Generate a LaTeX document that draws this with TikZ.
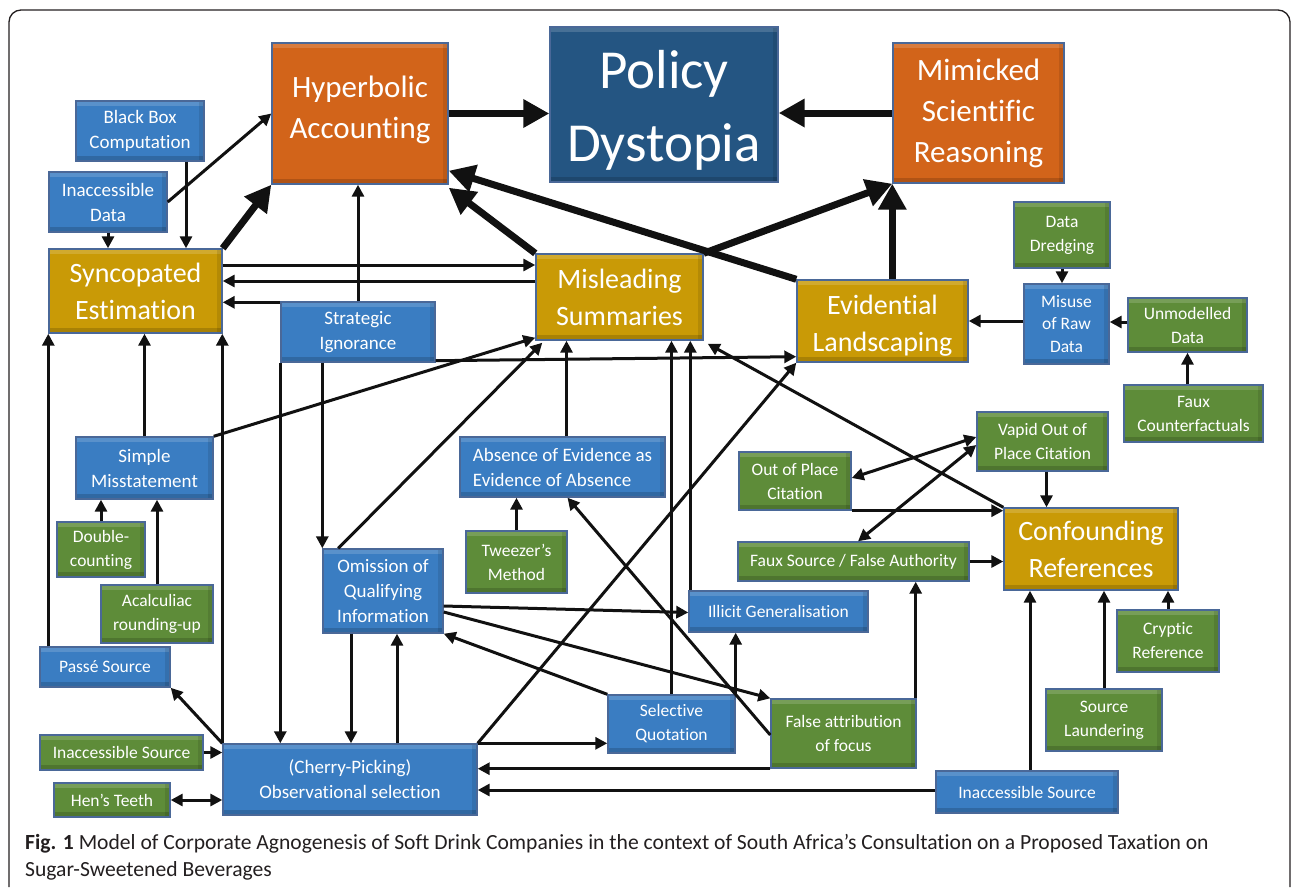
\documentclass[tikz,border=0pt]{standalone}
\usepackage{fontspec}
\setmainfont{Carlito}[Ligatures=NoCommon]
\usetikzlibrary{arrows.meta}

\definecolor{orangefill}{HTML}{D2641A}
\definecolor{policyfill}{HTML}{245582}
\definecolor{goldfill}{HTML}{C99A06}
\definecolor{bluefill}{HTML}{3A7DC2}
\definecolor{greenfill}{HTML}{5E8C39}
\definecolor{boxedge}{HTML}{4A6898}
\definecolor{linecol}{HTML}{111111}
\definecolor{captext}{HTML}{231F20}

% move a label up or down inside its box
\newcommand{\nudge}[2]{\raisebox{#1}[\height][\depth]{\begin{tabular}{@{}c@{}}#2\end{tabular}}}

\tikzset{
  bevel/.style={path picture={
      \fill[white, opacity=0.16] (path picture bounding box.north west) rectangle ([yshift=-5pt]path picture bounding box.north east);
      \fill[black, opacity=0.16] (path picture bounding box.south west) rectangle ([yshift=5pt]path picture bounding box.south east);
      \fill[black, opacity=0.10] (path picture bounding box.north east) rectangle ([xshift=-5pt]path picture bounding box.south east);
    }},
  box/.style={draw=boxedge, line width=1.4pt, text=white, align=center, inner sep=0pt,
    font=\fontsize{17.5}{24}\selectfont, bevel},
  bigtext/.style={font=\fontsize{19}{25}\selectfont},
  bluebox/.style={box, fill=bluefill},
  greenbox/.style={box, fill=greenfill},
  goldbox/.style={box, fill=goldfill, font=\fontsize{28}{37}\selectfont},
  orangebox/.style={box, fill=orangefill, font=\fontsize{31}{41}\selectfont},
  policybox/.style={box, fill=policyfill, font=\fontsize{55}{73}\selectfont},
  con/.style={line width=3pt, draw=linecol},
  heavy/.style={line width=7pt, draw=linecol, -{Triangle[length=26pt,width=27pt]}},
  caption/.style={inner sep=0pt, text=captext, font=\fontsize{21.6}{27}\selectfont},
  >={Triangle[length=12pt,width=12pt]}
}

\begin{document}
\begin{tikzpicture}[x=1pt,y=-1pt]

	\useasboundingbox (0,0) rectangle (1292,887);
	\draw[rounded corners=12pt, line width=1.3pt, draw=captext] (9,887) -- (9,10) -- (1290,10) -- (1290,887);

	% top row
	\node[orangebox, minimum width=176, minimum height=141] (hyper)  at (360,113.5)   {\nudge{3.5pt}{Hyperbolic\\Accounting}};
	\node[policybox, minimum width=228, minimum height=155] (policy) at (664,104.5)   {\nudge{-6pt}{Policy\\Dystopia}};
	\node[orangebox, minimum width=171, minimum height=140] (mimic)  at (978.5,113)   {Mimicked\\Scientific\\Reasoning};

	% left column
	\node[bluebox, bigtext, minimum width=128, minimum height=60] (blackbox)  at (140,131)   {Black Box\\Computation};
	\node[bluebox, bigtext, minimum width=118, minimum height=60] (inaccdata) at (108,202)   {Inaccessible\\Data};
	\node[goldbox, minimum width=173, minimum height=84] (synco)     at (135.5,291) {Syncopated\\Estimation};
	\node[bluebox, bigtext, minimum width=154, minimum height=60] (strat)     at (358,332)   {Strategic\\Ignorance};
	\node[bluebox, bigtext, minimum width=137, minimum height=62] (simple)    at (144.5,468) {Simple\\Misstatement};
	\node[greenbox, minimum width=88, minimum height=55] (double)    at (101,549.5) {Double-\\counting};
	\node[greenbox, minimum width=112, minimum height=58] (acalc)    at (157,614)   {Acalculiac\\rounding-up};
	\node[bluebox, minimum width=130, minimum height=40] (passe)     at (105,667)   {Passé Source};
	\node[greenbox, minimum width=163, minimum height=35] (inaccsrcL) at (121.5,752.5) {Inaccessible Source};
	\node[greenbox, minimum width=116, minimum height=34] (hens)      at (112,800)   {Hen’s Teeth};
	\node[bluebox, bigtext, minimum width=254, minimum height=71] (cherry)    at (350,779.5) {(Cherry-Picking)\\Observational selection};

	% middle
	\node[goldbox, minimum width=167, minimum height=86] (mislead)   at (619.5,297) {Misleading\\Summaries};
	\node[bluebox, bigtext, minimum width=205, minimum height=60, align=left] (absence) at (562.5,467) {Absence of Evidence as\\Evidence of Absence};
	\node[greenbox, minimum width=101, minimum height=62] (tweezer)  at (516.5,562) {Tweezer’s\\Method};
	\node[bluebox, bigtext, minimum width=120, minimum height=84] (omission) at (383,591) {Omission of\\Qualifying\\Information};
	\node[bluebox, minimum width=179, minimum height=41] (illicit)   at (778.5,611.5) {Illicit Generalisation};
	\node[bluebox, minimum width=127, minimum height=58] (selective) at (671.5,724) {Selective\\Quotation};
	\node[greenbox, minimum width=145, minimum height=69] (falseattr) at (843.5,733.5) {False attribution\\of focus};

	% right
	\node[goldbox, minimum width=171, minimum height=82] (evid)      at (882.5,321) {\nudge{-5pt}{Evidential\\Landscaping}};
	\node[greenbox, minimum width=96, minimum height=66] (dredge)    at (1062,235)  {Data\\Dredging};
	\node[bluebox, minimum width=85, minimum height=80, font=\fontsize{17.5}{22.5}\selectfont] (misuse) at (1066.5,324) {Misuse\\of Raw\\Data};
	\node[greenbox, minimum width=119, minimum height=54] (unmod)     at (1187.5,325) {Unmodelled\\Data};
	\node[greenbox, minimum width=139, minimum height=57] (fauxcf)    at (1193.5,413.5) {Faux\\Counterfactuals};
	\node[greenbox, minimum width=131, minimum height=59] (vapid)     at (1042.5,441.5) {Vapid Out of\\Place Citation};
	\node[greenbox, minimum width=112, minimum height=58] (outplace)  at (795,481)   {Out of Place\\Citation};
	\node[greenbox, minimum width=231, minimum height=39] (fauxsrc)   at (853.5,561.5) {Faux Source / False Authority};
	\node[goldbox, minimum width=174, minimum height=82] (confound)  at (1091,549)  {Confounding\\References};
	\node[greenbox, minimum width=102, minimum height=62] (cryptic)   at (1168,641)  {Cryptic\\Reference};
	\node[greenbox, minimum width=116, minimum height=62] (launder)   at (1104,720)  {Source\\Laundering};
	\node[bluebox, minimum width=182, minimum height=42] (inaccsrcR) at (1027,792)  {Inaccessible Source};

	% heavy arrows
	\draw[heavy] (hyper.east) -- (hyper.east -| policy.west);
	\draw[heavy] (mimic.west) -- (mimic.west -| policy.east);
	\draw[heavy] (synco.north east) -- (hyper.south west);
	\draw[heavy] (mislead.north west) -- ([yshift=-3]hyper.south east);
	\draw[heavy] (evid.north west) -- ([yshift=14]hyper.south east);
	\draw[heavy] (mislead.north east) -- (mimic.south west);
	\draw[heavy] (mimic.south west |- evid.north) -- (mimic.south west);

	% into syncopated estimation
	\draw[con,->] ([xshift=46]blackbox.south) -- ([xshift=46]blackbox.south |- synco.north);
	\draw[con,->] (inaccdata.south) -- (inaccdata.south |- synco.north);
	\draw[con,->] (inaccdata.east) -- (hyper.west);
	\draw[con,->] ([yshift=26]synco.east) -- ([yshift=26]synco.east -| mislead.west);
	\draw[con,->] ([yshift=16]mislead.west) -- ([yshift=16]mislead.west -| synco.east);
	\draw[con,->] ([yshift=-1]strat.north west) -- ([yshift=-1]strat.north west -| synco.east);
	\draw[con,->] (simple.north) -- (simple.north |- synco.south);
	\draw[con,->] (passe.north -| synco.south west) -- (synco.south west);
	\draw[con,->] (cherry.north west) -- (cherry.north west |- synco.south);

	% strategic ignorance
	\draw[con,->] (strat.north) -- (strat.north |- hyper.south);
	\draw[con,->] ([yshift=2]strat.south east) -- ([yshift=6]evid.south west);
	\draw[con,->] (strat.south -| omission.north west) -- (omission.north west);
	\draw[con,->] (strat.south west) -- (strat.south west |- cherry.north);

	% simple misstatement
	\draw[con,->] (simple.north east) -- ([yshift=3]mislead.south west);
	\draw[con,->] (double.north) -- (double.north |- simple.south);
	\draw[con,->] (acalc.north) -- (acalc.north |- simple.south);

	% observational selection
	\draw[con,->] (cherry.north west) -- (passe.south east);
	\draw[con,->] (inaccsrcL.east) -- (inaccsrcL.east -| cherry.west);
	\draw[con,<->] (hens.east) -- (hens.east -| cherry.west);
	\draw[con,->] ([xshift=-32]omission.south) -- ([xshift=-32]omission.south |- cherry.north);
	\draw[con,->] ([xshift=14]omission.south |- cherry.north) -- ([xshift=14]omission.south);
	\draw[con,->] (cherry.north east) -- (evid.south west);
	\draw[con,->] (cherry.north east) -- (cherry.north east -| selective.west);
	\draw[con,->] (falseattr.south west) -- (falseattr.south west -| cherry.east);
	\draw[con,->] ([yshift=2]inaccsrcR.west) -- ([yshift=2]inaccsrcR.west -| cherry.east);

	% misleading summaries
	\draw[con,->] ([xshift=16]omission.north west) -- ([xshift=7,yshift=-2]mislead.south west);
	\draw[con,->] ([xshift=4]absence.north) -- ([xshift=4]absence.north |- mislead.south);
	\draw[con,->] (tweezer.north) -- (tweezer.north |- absence.south);
	\draw[con,->] (selective.north) -- (selective.north |- mislead.south);
	\draw[con,->] ([xshift=2]illicit.north west) -- ([xshift=2]illicit.north west |- mislead.south);
	\draw[con,->] (confound.north west) -- ([xshift=4,yshift=-3]mislead.south east);

	% omission and quotation
	\draw[con,->] ([yshift=-15]omission.east) -- ([yshift=-1]illicit.west);
	\draw[con,->] ([yshift=-21]omission.east) -- (falseattr.north west);
	\draw[con,->] (selective.north west) -- (omission.south east);
	\draw[con,->] (selective.north east) -- (selective.north east |- illicit.south);
	\draw[con,->] ([yshift=-1.5]falseattr.west) -- ([xshift=5]absence.south);
	\draw[con,->] ([xshift=-1]falseattr.north east) -- ([xshift=-1]falseattr.north east |- fauxsrc.south);

	% evidential landscaping
	\draw[con,->] ([yshift=3]misuse.west) -- ([yshift=3]misuse.west -| evid.east);
	\draw[con,->] (dredge.south) -- (dredge.south |- misuse.north);
	\draw[con,->] ([yshift=3]unmod.west) -- ([yshift=3]unmod.west -| misuse.east);
	\draw[con,->] (unmod.south |- fauxcf.north) -- (unmod.south);

	% confounding references
	\draw[con,->] ([xshift=4]vapid.south) -- ([xshift=4]vapid.south |- confound.north);
	\draw[con,<->] ([yshift=3]outplace.east) -- ([yshift=4.5]vapid.west);
	\draw[con,<->] ([xshift=4.5]fauxsrc.north) -- ([yshift=-3.5]vapid.west);
	\draw[con,->] (outplace.south east) -- (outplace.south east -| confound.west);
	\draw[con,->] (fauxsrc.east) -- (fauxsrc.east -| confound.west);
	\draw[con,->] ([xshift=3]inaccsrcR.north) -- ([xshift=3]inaccsrcR.north |- confound.south);
	\draw[con,->] (launder.north) -- (launder.north |- confound.south);
	\draw[con,->] (cryptic.north) -- (cryptic.north |- confound.south);

	% caption
	\node[caption, anchor=base west] (capa) at (25,849) {\textbf{Fig. 1} Model of Corporate Agnogenesis of Soft Drink Companies in the context of South Africa’s Consultation on a Proposed Taxation on};
	\node[caption, anchor=base west] (capb) at (25,876) {Sugar-Sweetened Beverages};

\end{tikzpicture}
\end{document}
